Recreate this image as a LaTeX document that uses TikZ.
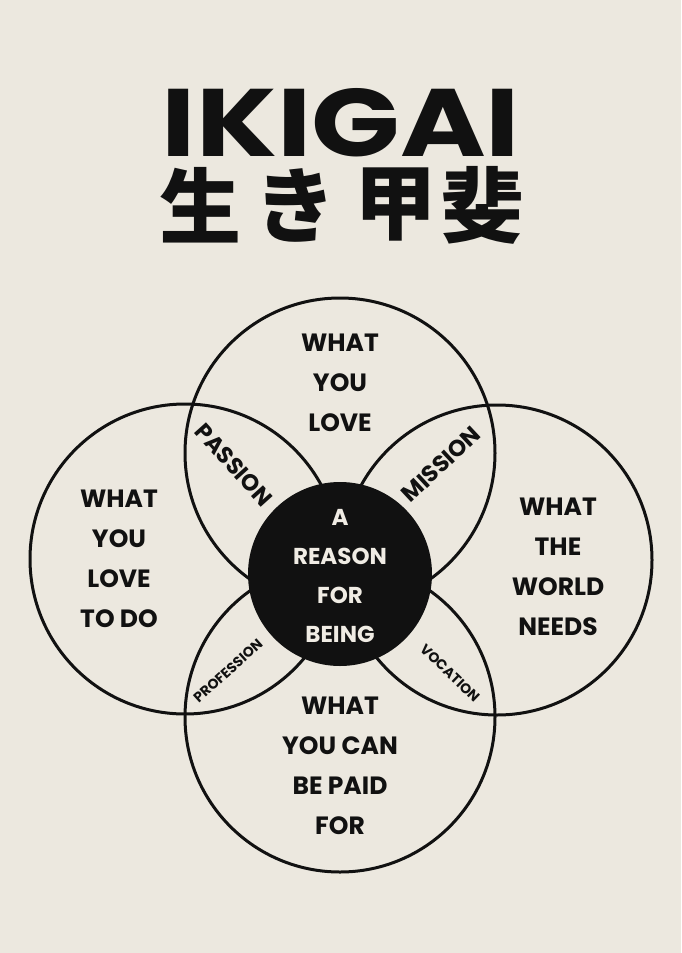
\documentclass[tikz,border=0pt]{standalone}
\usepackage{fontspec}
\usepackage{graphicx}
\usepackage{xcolor}
\setmainfont{Poppins}
\newfontfamily\cjk{Noto Sans CJK JP}
\definecolor{paper}{RGB}{236,232,223}
\definecolor{ink}{RGB}{17,17,17}
\definecolor{chalk}{RGB}{240,236,228}
\newcommand{\lbl}[2]{\fontsize{#1}{#2}\selectfont\bfseries}

\begin{document}
\begin{tikzpicture}[x=1pt,y=-1pt,
    ring/.style={line width=3pt,draw=ink},
    words/.style={align=center,text=ink,font=\lbl{25}{40}},
    lens/.style={text=ink,font=\lbl{23}{23}},
    small/.style={text=ink,font=\lbl{14}{14}}]
    % Paper
    \fill[paper] (0,0) rectangle (681,953);
    \useasboundingbox (0,0) rectangle (681,953);

    % Title
    \node[text=ink,inner sep=0pt] (title) at (341,123) {\resizebox{358pt}{68pt}{\bfseries IKIGAI}};
    \foreach \c/\x in {生/200,き/295,甲/395,斐/482}
        \node[text=ink,inner sep=0pt,font=\cjk\bfseries\fontsize{82}{82}\selectfont] (kanji-\x) at (\x,205) {\c};

    % Four circles
    \draw[ring] (340,453) circle (155);
    \draw[ring] (185,559) circle (155);
    \draw[ring] (497,560) circle (155);
    \draw[ring] (340,717) circle (155);

    % Reason for being
    \fill[ink] (340,574) circle (92);
    \node[words,text=chalk,font=\lbl{23}{39}] (reason) at (340,576) {A\\REASON\\FOR\\BEING};

    % Circle texts
    \node[words] (love) at (340,383) {WHAT\\YOU\\LOVE};
    \node[words] (good) at (119,559) {WHAT\\YOU\\LOVE\\TO DO};
    \node[words] (needs) at (558,567) {WHAT\\THE\\WORLD\\NEEDS};
    \node[words] (paid) at (340,766) {WHAT\\YOU CAN\\BE PAID\\FOR};

    % Overlaps
    \node[lens,rotate=-48] (passion) at (234,465) {PASSION};
    \node[lens,rotate=43] (mission) at (441,464) {MISSION};
    \node[small,rotate=42] (profession) at (228,671) {PROFESSION};
    \node[small,rotate=-44] (vocation) at (450,673) {VOCATION};
\end{tikzpicture}
\end{document}
